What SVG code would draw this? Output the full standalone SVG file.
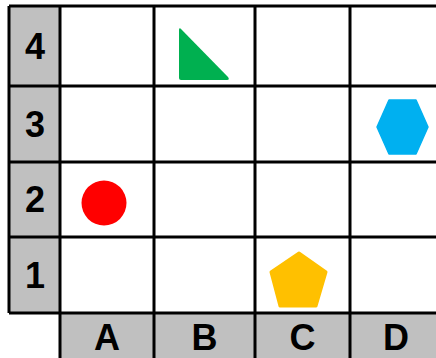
<svg xmlns="http://www.w3.org/2000/svg" width="436" height="358" viewBox="0 0 436 358">
<style>
.hdr{fill:#c0c0c0}
.ln{stroke:#000;stroke-width:3;fill:none}
.lbl{font-family:"Liberation Sans",Arial,sans-serif;font-weight:bold;font-size:36px;text-anchor:middle;fill:#000}
</style>
<rect width="436" height="358" fill="#fff"/>
<g id="headers">
<rect class="hdr" x="9" y="6" width="51" height="307"/>
<rect class="hdr" x="60" y="313" width="380" height="50"/>
</g>
<g id="grid">
<path class="ln" d="M9 6H440M9 86H440M9 162H440M9 237H440M9 313H440"/>
<path class="ln" d="M9 6V313M60 6V363M154 6V363M255 6V363M350 6V363"/>
</g>
<g id="labels">
<text class="lbl" x="35" y="59">4</text>
<text class="lbl" x="35" y="137">3</text>
<text class="lbl" x="35" y="212">2</text>
<text class="lbl" x="35" y="288">1</text>
<text class="lbl" x="107" y="350">A</text>
<text class="lbl" x="204.5" y="350">B</text>
<text class="lbl" x="302.5" y="350">C</text>
<text class="lbl" x="396" y="350">D</text>
</g>
<g id="triangle">
<path d="M179 30Q179 27 181.5 29.5L228 77Q230 80 227 80H181Q179 80 179 78Z" fill="#00b050"/>
</g>
<g id="hexagon">
<polygon points="377,127 389,100 416,100 428,127 416,154 389,154" fill="#00b0f0" stroke="#00b0f0" stroke-width="1.5" stroke-linejoin="round"/>
</g>
<g id="circle">
<circle cx="104" cy="203" r="22.5" fill="#ff0000"/>
</g>
<g id="pentagon">
<polygon points="299,253 326,272 316,306 280,306 271,272" fill="#ffc000" stroke="#ffc000" stroke-width="3" stroke-linejoin="round"/>
</g>
</svg>
